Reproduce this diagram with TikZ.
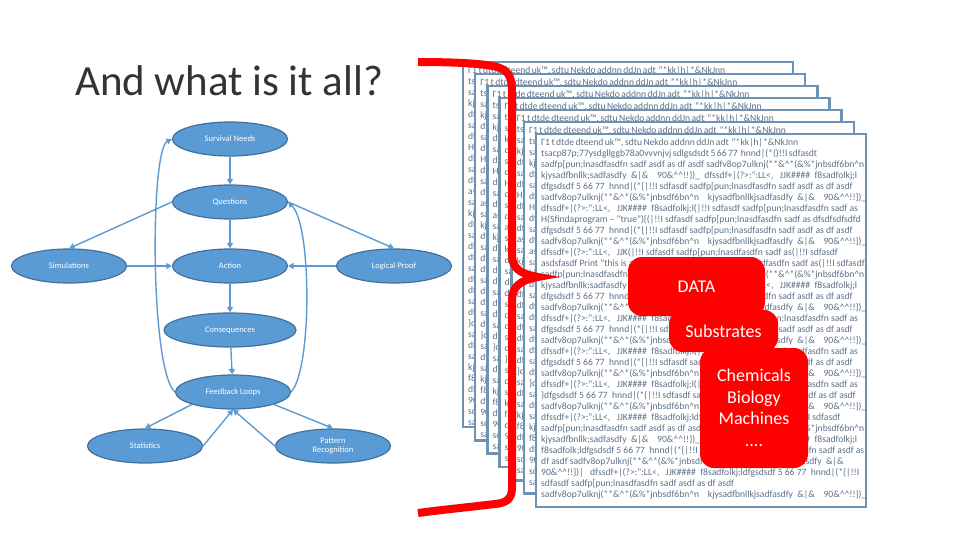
\documentclass[tikz,border=0pt]{standalone}
\usepackage{fontspec}
\setmainfont{Carlito}
\usetikzlibrary{shapes.geometric,arrows.meta}
\definecolor{ellfill}{HTML}{5B9BD5}
\definecolor{elldraw}{HTML}{41719C}
\definecolor{arrcol}{HTML}{5B9BD5}
\definecolor{pageedge}{HTML}{6E92B4}
\definecolor{pagetxt}{HTML}{5D7088}
\definecolor{titlecol}{HTML}{333333}
\definecolor{boxred}{HTML}{FF0000}

\newcommand\txtA{dfgsdsdf 5 66 77 \ hnnd|(*\{|!!I sdfasdf sadfp[pun;lnasdfasdfn sadf asdf as df asdf}
\newcommand\txtB{sadfv8op7ulknj(**\&\textasciicircum*(\&\%*jnbsdf6bn\textasciicircum n \ \ \ kjysadfbnllkjsadfasdfy \ \&|\& \ \ \ 90\&\textasciicircum\textasciicircum!!\})\_}
\newcommand\txtC{dfssdf+|(?>:":LL<, \ \ JJK\#\#\#\# \ f8sadfolkj;l(|!!I sdfasdf sadfp[pun;lnasdfasdfn sadf as}
\newcommand\txtD{sadfp[pun;lnasdfasdfn sadf asdf as df asdf sadfv8op7ulknj(**\&\textasciicircum*(\&\%*jnbsdf6bn\textasciicircum n}
\newcommand\txtE{kjysadfbnllk;sadfasdfy \ \&|\& \ \ \ 90\&\textasciicircum\textasciicircum!!\})\_ \ dfssdf+|(?>:":LL<, \ \ JJK\#\#\#\# \ f8sadfolkj;l}
\newcommand\pagetext{%
\makebox[242pt][s]{Γ1 t dtde dteend uk™, sdtu Nekdo addnn ddJn adt \ "*kk|h|*\&NkJnn}\\
\makebox[244pt][s]{tsacp87p;77ysdgllggb78a0vvvnjvj sdlgsdsdt 5 66 77 \ hnnd|(*()!!I sdfasdt}\\
\txtD\\
\txtE\\
\txtA\\
\txtB\\
\txtC\\
H(Sfindaprogram -- "true")\{(|!!I sdfasdf sadfp[pun;lnasdfasdfn sadf as dfsdfsdfsdfd\\
\txtA\\
\txtB\\
dfssdf+|(?>:":LL<, \ \ JJK(|!!I sdfasdf sadfp[pun;lnasdfasdfn sadf as(|!!I sdfasdf\\
asdsfasdf Print "this is a test"(|!!I sdfasdf sadfp[pun;lnasdfasdfn sadf as(|!!I sdfasdf\\
\txtD\\
\txtE\\
\txtA\\
\txtB\\
\txtC\\
\txtA\\
\txtB\\
\txtC\\
\txtA\\
\txtB\\
\txtC\\
\}\txtA\\
\txtB\\
dfssdf+|(?>:":LL<, \ \ JJK\#\#\#\# \ f8sadfolkj;ldfgsdsdf 5 66 77 \ hnnd|(*\{|!!I sdfasdf\\
\txtD\\
\txtE\\
f8sadfolk;ldfgsdsdf 5 66 77 \ hnnd|(*\{|!!I sdfasdf sadfp[pun;lnasdfasdfn sadf asdf as\\
df asdf sadfv8op7ulknj(**\&\textasciicircum*(\&\%*jnbsdf6bn\textasciicircum n \ \ \ kjysadfbnllkjsadfasdfy \ \&|\&\\
90\&\textasciicircum\textasciicircum!!\})| \ \ dfssdf+|(?>:":LL<, \ \ JJK\#\#\#\# \ f8sadfolkj;ldfgsdsdf 5 66 77 \ hnnd|(*\{|!!I\\
sdfasdf sadfp[pun;lnasdfasdfn sadf asdf as df asdf\\
\txtB}

\begin{document}
\begin{tikzpicture}[x=1pt,y=-1pt,
  ell/.style={ellipse, fill=ellfill, draw=elldraw, line width=1.2pt, minimum width=115pt, minimum height=34pt, inner sep=0pt, text=white, font=\fontsize{8.5}{9.5}\selectfont, align=center},
  arr/.style={draw=arrcol, line width=1.4pt, -{Triangle[length=5.5pt,width=6pt]}},
  redbox/.style={fill=boxred, rounded corners=14pt, text=white, font=\fontsize{18}{21.5}\selectfont, align=center, inner sep=0pt},
  pagebox/.style={fill=white, draw=pageedge, line width=2.5pt},
  pagetxtstyle/.style={anchor=north west, inner sep=0pt, align=left, text=pagetxt, font=\fontsize{9.6}{11}\selectfont}
]
\useasboundingbox (0,0) rectangle (960,540);
\fill[white] (0,0) rectangle (960,540);

% title
\node[anchor=base west, inner sep=0pt, font=\fontsize{43}{50}\selectfont, text=titlecol] (title) at (75,96) {And what is it all?};

% graph
\node[ell] (sn) at (230,139) {Survival Needs};
\node[ell] (q) at (230,202) {Questions};
\node[ell] (sim) at (69,266) {Simulations};
\node[ell] (act) at (230,266) {Action};
\node[ell] (lp) at (394,266) {Logical Proof};
\node[ell, minimum width=132pt] (con) at (230,330) {Consequences};
\node[ell] (fb) at (233,392) {Feedback Loops};
\node[ell] (stat) at (145,446) {Statistics};
\node[ell] (pr) at (333,446) {Pattern\\Recognition};

\draw[arr] (sn) -- (q);
\draw[arr] (q) -- (act);
\draw[arr] (q.west) -- (sim.north);
\draw[arr] (q.east) -- (lp.north);
\draw[arr] (sim) -- (act);
\draw[arr] (lp) -- (act);
\draw[arr] (act) -- (con);
\draw[arr] (con) -- (fb);
\draw[arr] (fb.west) .. controls (150,370) and (150,150) .. (sn.west);
\draw[arr] (fb.east) .. controls (312,370) and (312,225) .. (q.east);
\draw[arr] (fb.south west) -- (stat.north);
\draw[arr] (stat.east) -- (fb.south);
\draw[arr] (pr.west) -- (fb.south);
\draw[arr] (fb.south east) -- (pr.north);

% stacked pages
\foreach \k in {0,...,6}{
  \pgfmathsetmacro\pgL{463+12.17*\k}
  \pgfmathsetmacro\pgT{62+12*\k}
  \pgfmathsetmacro\pgR{\pgL+330}
  \pgfmathsetmacro\pgB{427+13.33*\k}
  \filldraw[pagebox] (\pgL,\pgT) rectangle (\pgR,\pgB);
  \begin{scope}
    \clip (\pgL,\pgT) rectangle (\pgR,\pgB);
    \node[pagetxtstyle] (pg\k) at (\pgL+5,\pgT+4) {\pagetext};
  \end{scope}
}

% red bracket
\draw[boxred, line width=8pt]
  (418,62) .. controls (460,62) and (490,64) .. (500,68)
  .. controls (510,72) and (512,80) .. (512,92) -- (512,255)
  .. controls (512,268) and (520,274) .. (538,277)
  .. controls (520,280) and (512,287) .. (512,300) -- (512,488)
  .. controls (512,500) and (505,503) .. (495,504)
  .. controls (470,507) and (440,510) .. (418,513);

% red boxes
\node[redbox, minimum width=137pt, minimum height=59pt] (data) at (696.5,286.5) {DATA};
\node[redbox, minimum width=109pt, minimum height=42pt] (subs) at (723.5,331) {Substrates};
\node[redbox, minimum width=108pt, minimum height=120pt] (chem) at (754,408) {Chemicals\\Biology\\Machines\\....};
\end{tikzpicture}
\end{document}
